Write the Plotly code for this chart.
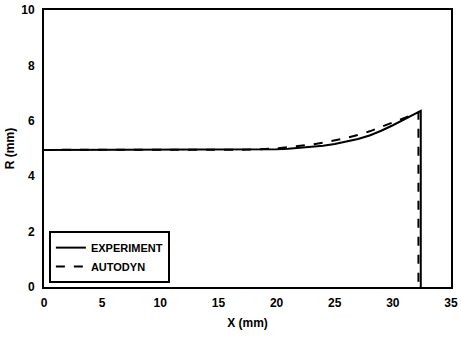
import plotly.graph_objects as go

exp_x = [0, 5, 10, 15, 18, 20, 21, 22, 23, 24, 25, 26, 27, 28, 29, 30, 31, 31.5, 32.4, 32.4]
exp_r = [4.95, 4.95, 4.95, 4.95, 4.95, 4.97, 4.99, 5.02, 5.05, 5.1, 5.16, 5.24, 5.34, 5.47, 5.64, 5.84, 6.06, 6.17, 6.36, 0]

auto_x = [0, 5, 10, 15, 18, 20, 21, 22, 23, 24, 25, 26, 27, 28, 29, 30, 31, 32.2, 32.2]
auto_r = [4.95, 4.95, 4.95, 4.95, 4.96, 5.0, 5.04, 5.09, 5.14, 5.21, 5.29, 5.38, 5.49, 5.62, 5.78, 5.95, 6.1, 6.3, 0]

font = dict(family="Liberation Sans, Arial", size=12, color="black", weight="bold")

fig = go.Figure()
fig.add_trace(go.Scatter(x=exp_x, y=exp_r, mode="lines", name="EXPERIMENT",
                         line=dict(color="black", width=2)))
fig.add_trace(go.Scatter(x=auto_x, y=auto_r, mode="lines", name="AUTODYN",
                         line=dict(color="black", width=2, dash="dash")))

fig.update_layout(
    width=461, height=337,
    margin=dict(l=44, r=10, t=10, b=50),
    paper_bgcolor="white", plot_bgcolor="white",
    font=font,
    showlegend=True,
    legend=dict(x=0.012, y=0.014, xanchor="left", yanchor="bottom",
                bordercolor="black", borderwidth=2, bgcolor="white",
                font=dict(family="Liberation Sans, Arial", size=11, color="black", weight="bold"),
                itemwidth=30, tracegroupgap=6),
)
fig.update_xaxes(range=[0, 35], tickvals=[0, 5, 10, 15, 20, 25, 30, 35],
                 showgrid=False, zeroline=False, showline=True, linecolor="black",
                 linewidth=2, mirror=True, ticks="", ticklabelstandoff=4,
                 automargin=False,
                 title=dict(text="X (mm)", font=font, standoff=9))
fig.update_yaxes(range=[0, 10], tickvals=[0, 2, 4, 6, 8, 10],
                 showgrid=False, zeroline=False, showline=True, linecolor="black",
                 linewidth=2, mirror=True, ticks="", ticklabelstandoff=5,
                 automargin=False,
                 title=dict(text="R (mm)", font=font, standoff=4))

fig.write_html("out.html")
